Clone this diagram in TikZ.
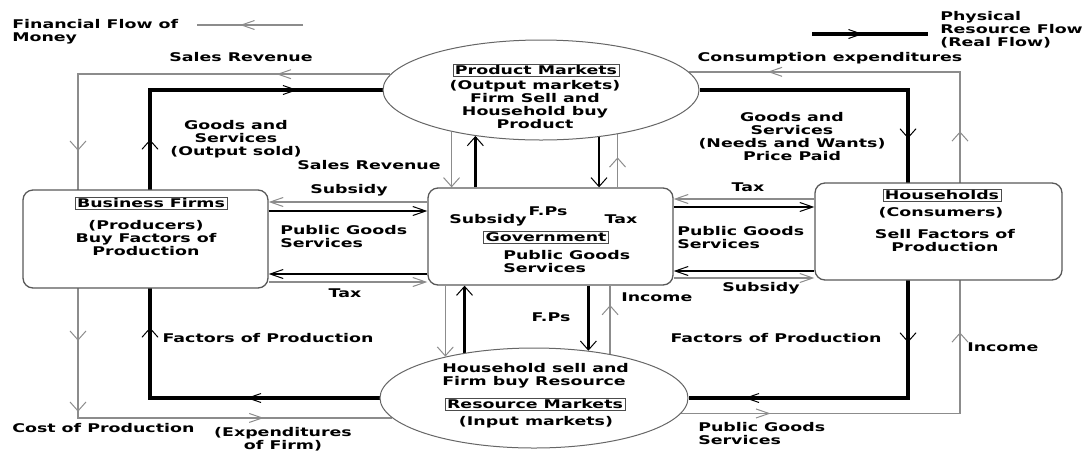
\documentclass[tikz,border=0pt]{standalone}
\usepackage{fontspec}
\setmainfont{DejaVu Sans}
\usetikzlibrary{arrows.meta,decorations.markings,shapes.geometric,backgrounds}

\tikzset{
  hbarb/.tip={Straight Barb[length=13pt,width=9pt,line width=1pt]},
  vbarb/.tip={Straight Barb[length=9pt,width=16pt,line width=1pt]}
}

\begin{document}
\begin{tikzpicture}[x=1pt,y=-1pt,
    lbl/.style={font=\bfseries\fontsize{12}{13}\selectfont,inner sep=0pt,xscale=1.45,align=center},
    tag/.style={lbl,draw=black!70,thin,inner sep=1.5pt},
    sector/.style={draw=black!65,line width=1.3pt,rounded corners=10pt,fill=white},
    market/.style={ellipse,draw=black!60,line width=1pt,fill=white},
    money/.style={draw=black!45,line width=1.5pt},
    real/.style={draw=black,line width=4pt},
    flow/.style={draw=black,line width=2pt},
    arrH/.style={postaction={decorate,decoration={markings,mark=at position #1 with {\arrow{hbarb}}}}},
    arrV/.style={postaction={decorate,decoration={markings,mark=at position #1 with {\arrow{vbarb}}}}}]
  \useasboundingbox (0,0) rectangle (1089,451);

  % sectors and markets
  \node[market,minimum width=316pt,minimum height=100pt] (pm) at (541,90) {};
  \node[market,minimum width=308pt,minimum height=100pt] (rm) at (534,398) {};
  \node[sector,minimum width=245pt,minimum height=98pt] (firms) at (145.5,239) {};
  \node[sector,minimum width=245pt,minimum height=97pt] (govt) at (550.5,236.5) {};
  \node[sector,minimum width=247pt,minimum height=97pt] (house) at (938.5,231.5) {};

  % legend
  \node[lbl,align=left,anchor=west] (fin) at (12,32) {Financial Flow of\\Money};
  \coordinate (finA) at (303,25);
  \coordinate (finB) at (197,25);
  \draw[money,arrH=63pt] (finA) -- (finB);
  \node[lbl,align=left,anchor=west] (phys) at (940,29.5) {Physical\\Resource Flow\\(Real Flow)};
  \coordinate (physA) at (812,34);
  \coordinate (physB) at (928,34);
  \draw[real,arrH=51pt] (physA) -- (physB);

  \begin{scope}[on background layer]
    \coordinate (lmx) at (78,250);
    \coordinate (ltx) at (150,250);
    \coordinate (rtx) at (908,250);
    \coordinate (rnx) at (960,250);
    % outer loops
    \draw[money,arrH=114pt,arrV=389pt,arrV=579pt,arrV=650pt,arrH=842pt] (pm.174) -| (lmx) |- (rm.188);
    \draw[real,arrH=133pt,arrV=300pt,arrV=488pt,arrH=685pt] (rm.west) -| (ltx) |- (pm.west);
    \draw[real,arrV=257pt,arrV=461pt,arrH=680pt] (pm.east) -| (rtx) |- (rm.east);
    \draw[money,arrH=89.5pt,arrV=360pt,arrV=561pt,arrH=813pt] (rm.354) -| (rnx) |- (pm.7);
    % markets and government
    \draw[money,-{vbarb}] (pm.205) -- (pm.205 |- govt.north);
    \draw[flow,line width=2.5pt,-{vbarb}] (pm.215 |- govt.north) -- (pm.215);
    \draw[flow,line width=2.5pt,-{vbarb}] (pm.321) -- (pm.321 |- govt.north);
    \draw[money,arrV=30pt] (pm.330 |- govt.north) -- (pm.330);
    \draw[money,-{vbarb}] (govt.south -| rm.155) -- (rm.155);
    \draw[flow,line width=2.5pt,-{vbarb}] (rm.147) -- (rm.147 |- govt.south);
    \draw[flow,line width=2.5pt,-{vbarb}] (govt.south -| rm.41) -- (rm.41);
    \draw[money,arrV=49pt] (rm.30) -- (rm.30 |- govt.south);
    % sectors and government
    \draw[money,-{hbarb}] (govt.west |- 0,202) -- (firms.east |- 0,202);
    \draw[flow,-{hbarb}] (firms.east |- 0,211) -- (govt.west |- 0,211);
    \draw[flow,-{hbarb}] (govt.west |- 0,274) -- (firms.east |- 0,274);
    \draw[money,-{hbarb}] (firms.east |- 0,282) -- (govt.west |- 0,282);
    \draw[money,-{hbarb}] (house.west |- 0,199) -- (govt.east |- 0,199);
    \draw[flow,-{hbarb}] (govt.east |- 0,207) -- (house.west |- 0,207);
    \draw[flow,-{hbarb}] (house.west |- 0,271) -- (govt.east |- 0,271);
    \draw[money,-{hbarb}] (govt.east |- 0,278) -- (house.west |- 0,278);
  \end{scope}

  % product market
  \node[tag] (pmtag) at (536,70) {Product Markets};
  \node[lbl] (pmtxt) at (535,104.5) {(Output markets)\\Firm Sell and\\Household buy\\Product};
  % resource market
  \node[lbl,align=left,anchor=west] (rmtxt) at (442,376) {Household sell and\\Firm buy Resource};
  \node[tag] (rmtag) at (535,404) {Resource Markets};
  \node[lbl] (rminp) at (536,422) {(Input markets)};
  % firms
  \node[tag] (ftag) at (151,203) {Business Firms};
  \node[lbl] (ftxt) at (146,238) {(Producers)\\Buy Factors of\\Production};
  % government
  \node[lbl] (gsub) at (488,220) {Subsidy};
  \node[lbl] (gfp) at (548,211) {F.Ps};
  \node[lbl] (gtax) at (621,219) {Tax};
  \node[tag] (gtag) at (546,237) {Government};
  \node[lbl,align=left,anchor=west] (gtxt) at (503,262) {Public Goods\\Services};
  % households
  \node[tag] (htag) at (942,195) {Households};
  \node[lbl] (hcons) at (941,213) {(Consumers)};
  \node[lbl] (htxt) at (945,241) {Sell Factors of\\Production};

  % flow labels
  \node[lbl] (salesA) at (241,57) {Sales Revenue};
  \node[lbl] (outA) at (236,139.5) {Goods and\\Services\\(Output sold)};
  \node[lbl,anchor=west] (salesB) at (297,165) {Sales Revenue};
  \node[lbl] (consA) at (830,58) {Consumption expenditures};
  \node[lbl] (needA) at (792,137) {Goods and\\Services\\(Needs and Wants)\\Price Paid};
  \node[lbl] (lsub) at (349,190) {Subsidy};
  \node[lbl,align=left,anchor=west] (lpub) at (280,236.5) {Public Goods\\Services};
  \node[lbl] (ltax) at (345,293) {Tax};
  \node[lbl] (rtax) at (748,187) {Tax};
  \node[lbl,align=left,anchor=west] (rpub) at (677,237.5) {Public Goods\\Services};
  \node[lbl] (rsub) at (761,288) {Subsidy};
  \node[lbl,anchor=west] (ginc) at (621,297) {Income};
  \node[lbl] (gfpb) at (551,317) {F.Ps};
  \node[lbl] (lfac) at (268,338) {Factors of Production};
  \node[lbl] (rfac) at (776,338) {Factors of Production};
  \node[lbl,anchor=west] (hinc) at (967,347) {Income};
  \node[lbl,anchor=west] (cost) at (12,428) {Cost of Production};
  \node[lbl] (expf) at (283,439.5) {(Expenditures\\of Firm)};
  \node[lbl,align=left,anchor=west] (bpub) at (698,434) {Public Goods\\Services};
\end{tikzpicture}
\end{document}
